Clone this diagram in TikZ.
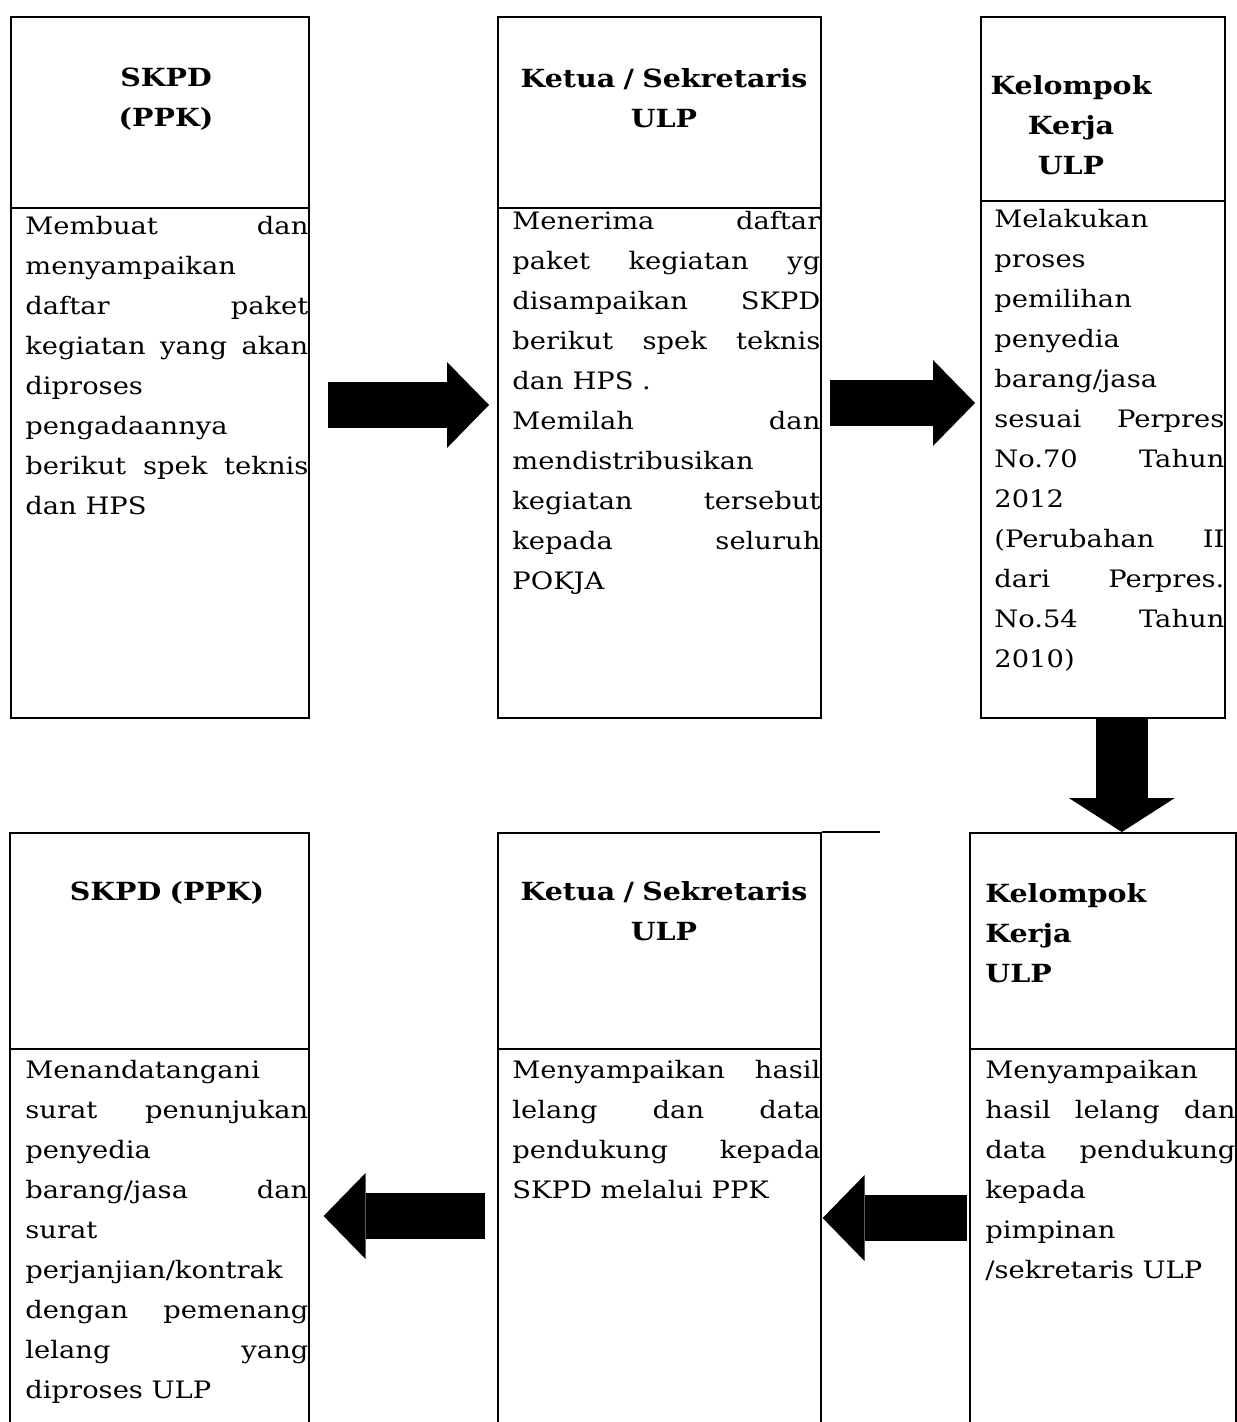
\documentclass[tikz,border=0pt]{standalone}
\usepackage{fontspec}
\setmainfont[FakeStretch=1.14]{DejaVu Serif}
\usetikzlibrary{arrows.meta}
\tolerance=10000 \hbadness=10000 \hyphenpenalty=10000

\begin{document}
\begin{tikzpicture}[x=0.5pt,y=-0.5pt,
  box/.style={draw,line width=0.8pt,inner sep=0pt,anchor=north west},
  head/.style={font=\fontsize{12.5}{20}\selectfont\bfseries,align=center,anchor=base,inner sep=0pt},
  body/.style={font=\fontsize{12}{20}\selectfont,align=justify,anchor=base west,inner sep=0pt},
  blockarrow/.style={line width=23pt,-{Triangle[width=43pt,length=21pt,line width=0pt]}},
  downarrow/.style={line width=26pt,-{Triangle[width=53pt,length=17pt,line width=0pt]}}]
  \useasboundingbox (0,0) rectangle (1236,1422);

  % top row: SKPD
  \node[box,minimum width=149pt,minimum height=95.5pt] (hd1) at (10,16) {};
  \node[box,minimum width=149pt,minimum height=255pt] (bd1) at (10,207) {};
  \node[head,text width=149pt] (t1) at (166,87) {SKPD\\(PPK)};
  \node[body,text width=141.5pt] (x1) at (25,235) {Membuat dan\linebreak
    menyampaikan\linebreak daftar paket\linebreak kegiatan yang akan\linebreak
    diproses\linebreak pengadaannya\linebreak berikut spek teknis\linebreak dan HPS};

  % top row: ketua / sekretaris
  \node[box,minimum width=161.5pt,minimum height=95.5pt] (hd2) at (497,16) {};
  \node[box,minimum width=161.5pt,minimum height=255pt] (bd2) at (497,207) {};
  \node[head,text width=161.5pt] (t2) at (664,88) {Ketua / Sekretaris\\ULP};
  \node[body,text width=154pt] (x2) at (512,230) {Menerima daftar\linebreak
    paket kegiatan yg\linebreak disampaikan SKPD\linebreak berikut spek teknis\linebreak
    dan HPS .\par Memilah dan\linebreak mendistribusikan\linebreak
    kegiatan tersebut\linebreak kepada seluruh\linebreak POKJA};

  % top row: pokja
  \node[box,minimum width=122pt,minimum height=92pt] (hd3) at (980,16) {};
  \node[box,minimum width=122pt,minimum height=258.5pt] (bd3) at (980,200) {};
  \node[head,text width=122pt] (t3) at (1071,95) {Kelompok\\Kerja\\ULP};
  \node[body,text width=115pt] (x3) at (994,228) {Melakukan\linebreak proses\linebreak
    pemilihan\linebreak penyedia\linebreak barang/jasa\linebreak sesuai Perpres\linebreak
    No.70 Tahun\linebreak 2012\linebreak (Perubahan II\linebreak dari Perpres.\linebreak
    No.54 Tahun\linebreak 2010)};

  % bottom row: pokja
  \node[box,minimum width=133pt,minimum height=108pt] (hd4) at (969,832) {};
  \node[box,minimum width=133pt,minimum height=188pt] (bd4) at (969,1048) {};
  \node[head,text width=120pt,align=left,anchor=base west] (t4) at (985,902) {Kelompok\\Kerja\\ULP};
  \node[body,text width=125pt] (x4) at (985,1078) {Menyampaikan\linebreak
    hasil lelang dan\linebreak data pendukung\linebreak kepada\linebreak
    pimpinan\linebreak /sekretaris ULP};

  % bottom row: ketua / sekretaris
  \node[box,minimum width=161.5pt,minimum height=108pt] (hd5) at (497,832) {};
  \node[box,minimum width=161.5pt,minimum height=188pt] (bd5) at (497,1048) {};
  \draw[line width=0.8pt] (hd5.north east) -- ++(58,0);
  \node[head,text width=161.5pt] (t5) at (664,900) {Ketua / Sekretaris\\ULP};
  \node[body,text width=154pt] (x5) at (512,1078) {Menyampaikan hasil\linebreak
    lelang dan data\linebreak pendukung kepada\linebreak SKPD melalui PPK};

  % bottom row: SKPD
  \node[box,minimum width=149.5pt,minimum height=108pt] (hd6) at (9,832) {};
  \node[box,minimum width=149.5pt,minimum height=188pt] (bd6) at (9,1048) {};
  \node[head,text width=149.5pt] (t6) at (167,900) {SKPD (PPK)};
  \node[body,text width=141.5pt] (x6) at (25,1078) {Menandatangani\linebreak
    surat penunjukan\linebreak penyedia\linebreak barang/jasa dan\linebreak
    surat\linebreak perjanjian/kontrak\linebreak dengan pemenang\linebreak
    lelang yang\linebreak diproses ULP};

  % arrows
  \draw[blockarrow,shorten <=9pt,shorten >=4pt] ([yshift=-99pt]bd1.north east) -- ([yshift=-99pt]bd2.north west);
  \draw[blockarrow,shorten <=4pt,shorten >=2.5pt] ([yshift=-98pt]bd2.north east) -- ([yshift=-101.5pt]bd3.north west);
  \draw[downarrow] ([xshift=9.5pt]bd3.south) -- ([xshift=9.5pt]hd4.north);
  \draw[blockarrow,shorten <=1pt,shorten >=0.5pt] ([yshift=-85pt]bd4.north west) -- ([yshift=-85pt]bd5.north east);
  \draw[blockarrow,shorten <=6pt,shorten >=7pt] ([yshift=-84pt]bd5.north west) -- ([yshift=-84pt]bd6.north east);
\end{tikzpicture}
\end{document}
